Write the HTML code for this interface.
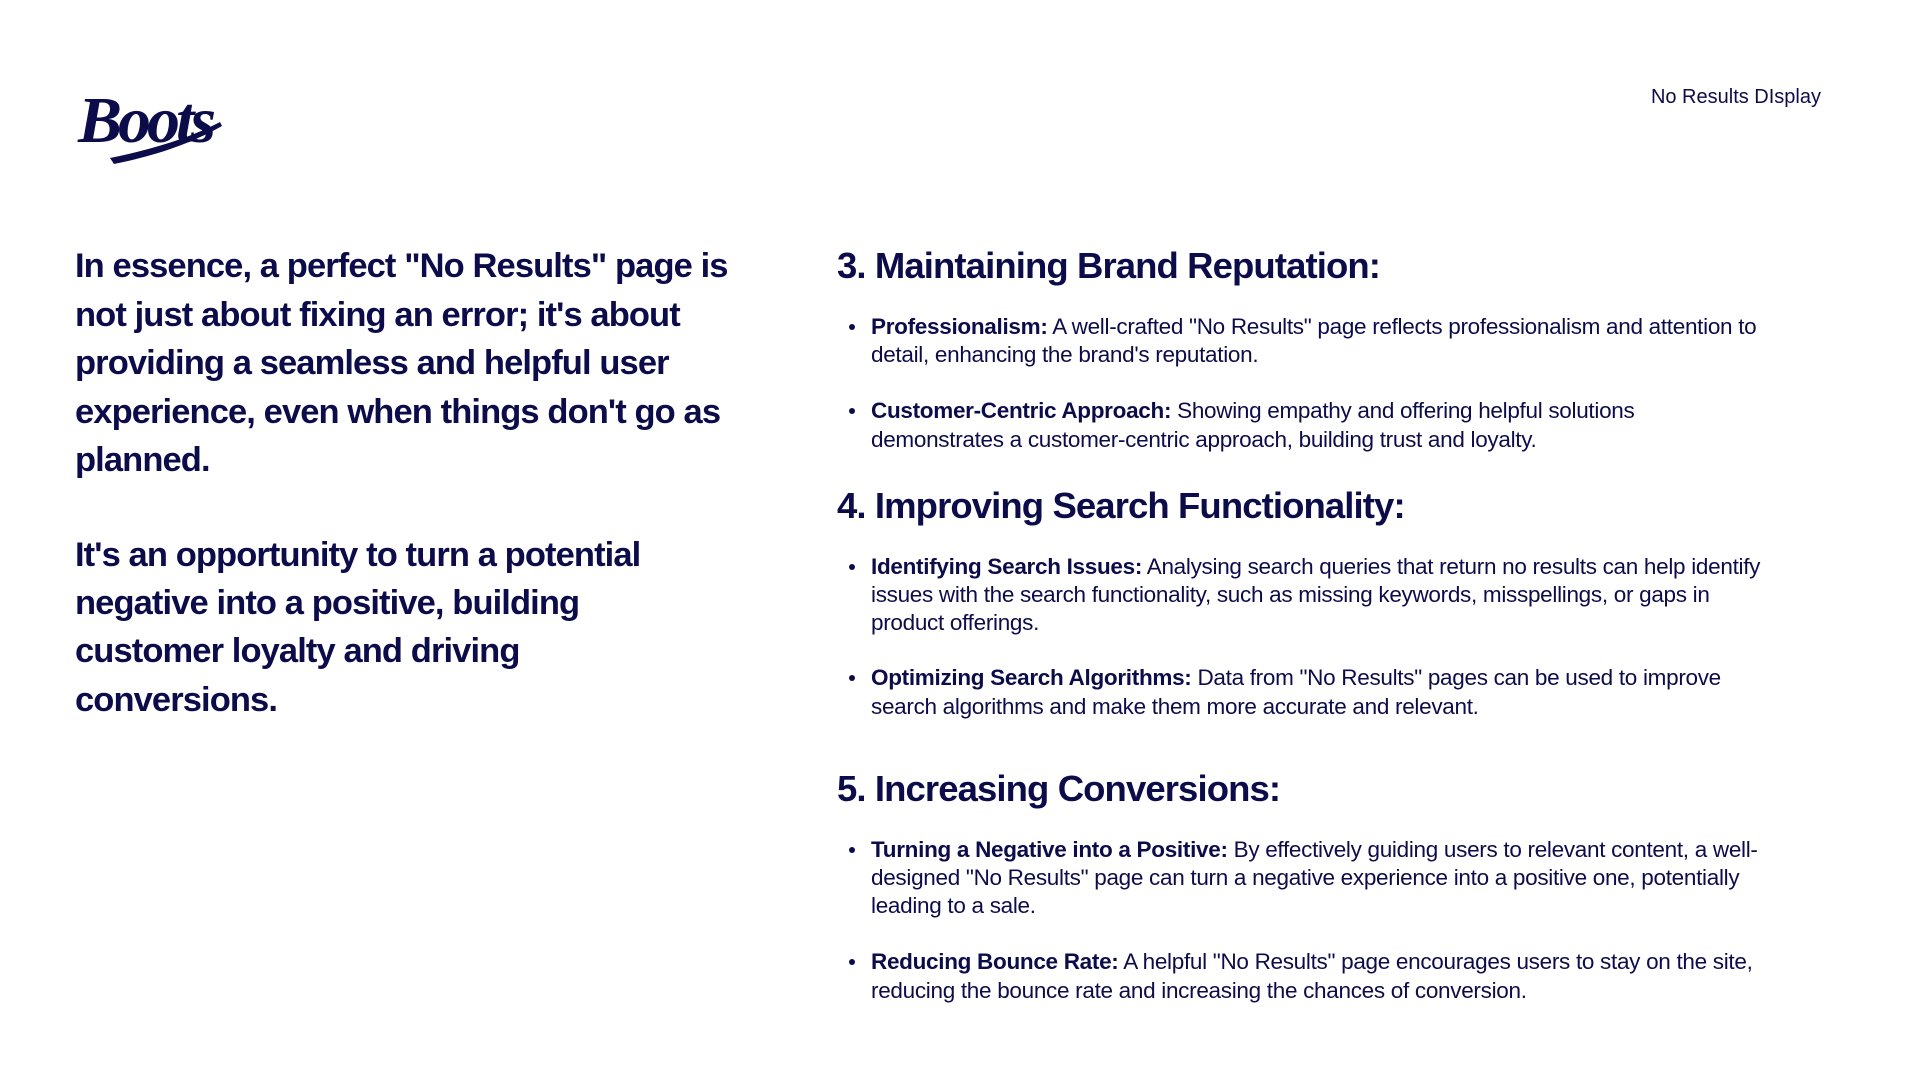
<!DOCTYPE html>
<html><head><meta charset="utf-8"><style>
body{margin:0;width:1920px;height:1080px;background:#fff;position:relative;overflow:hidden;font-family:"Liberation Sans",sans-serif;color:#0d0c4a}
.l{position:absolute;white-space:nowrap}
.p{font-weight:bold;font-size:34.5px;line-height:34px;letter-spacing:-0.9px;left:75px}
.h{font-weight:bold;font-size:36.5px;line-height:36px;letter-spacing:-0.9px;left:837px}
.b{font-size:22.5px;line-height:22px;letter-spacing:-0.3px;left:871px}
.d{position:absolute;left:849px;width:6px;height:6px;border-radius:50%;background:#0d0c4a}
</style></head><body>
<svg style="position:absolute;left:70px;top:80px" width="160" height="90" viewBox="0 0 160 90">
<text x="8" y="62" font-family="Liberation Serif" font-style="italic" font-weight="bold" font-size="66" fill="#0d0c4a" letter-spacing="-4">Boots</text>
<path d="M40 78 C80 70 120 58 150 42 L152 46 C120 64 84 76 44 84 Z" fill="#0d0c4a"/>
</svg>
<div class="l" style="right:99px;top:87px;font-size:20px;line-height:20px">No Results DIsplay</div>

<div class="l p" style="top:249px">In essence, a perfect "No Results" page is</div>
<div class="l p" style="top:298px">not just about fixing an error; it's about</div>
<div class="l p" style="top:346px">providing a seamless and helpful user</div>
<div class="l p" style="top:395px">experience, even when things don't go as</div>
<div class="l p" style="top:443px">planned.</div>
<div class="l p" style="top:538px">It's an opportunity to turn a potential</div>
<div class="l p" style="top:586px">negative into a positive, building</div>
<div class="l p" style="top:634px">customer loyalty and driving</div>
<div class="l p" style="top:683px">conversions.</div>

<div class="l h" style="top:248px">3. Maintaining Brand Reputation:</div>
<div class="d" style="top:324px"></div>
<div class="l b" style="top:316px"><b>Professionalism:</b> A well-crafted "No Results" page reflects professionalism and attention to</div>
<div class="l b" style="top:344px">detail, enhancing the brand's reputation.</div>
<div class="d" style="top:408px"></div>
<div class="l b" style="top:400px"><b>Customer-Centric Approach:</b> Showing empathy and offering helpful solutions</div>
<div class="l b" style="top:429px">demonstrates a customer-centric approach, building trust and loyalty.</div>

<div class="l h" style="top:488px">4. Improving Search Functionality:</div>
<div class="d" style="top:564px"></div>
<div class="l b" style="top:556px"><b>Identifying Search Issues:</b> Analysing search queries that return no results can help identify</div>
<div class="l b" style="top:584px">issues with the search functionality, such as missing keywords, misspellings, or gaps in</div>
<div class="l b" style="top:612px">product offerings.</div>
<div class="d" style="top:675px"></div>
<div class="l b" style="top:667px"><b>Optimizing Search Algorithms:</b> Data from "No Results" pages can be used to improve</div>
<div class="l b" style="top:696px">search algorithms and make them more accurate and relevant.</div>

<div class="l h" style="top:771px">5. Increasing Conversions:</div>
<div class="d" style="top:847px"></div>
<div class="l b" style="top:839px"><b>Turning a Negative into a Positive:</b> By effectively guiding users to relevant content, a well-</div>
<div class="l b" style="top:867px">designed "No Results" page can turn a negative experience into a positive one, potentially</div>
<div class="l b" style="top:895px">leading to a sale.</div>
<div class="d" style="top:959px"></div>
<div class="l b" style="top:951px"><b>Reducing Bounce Rate:</b> A helpful "No Results" page encourages users to stay on the site,</div>
<div class="l b" style="top:980px">reducing the bounce rate and increasing the chances of conversion.</div>
</body></html>
